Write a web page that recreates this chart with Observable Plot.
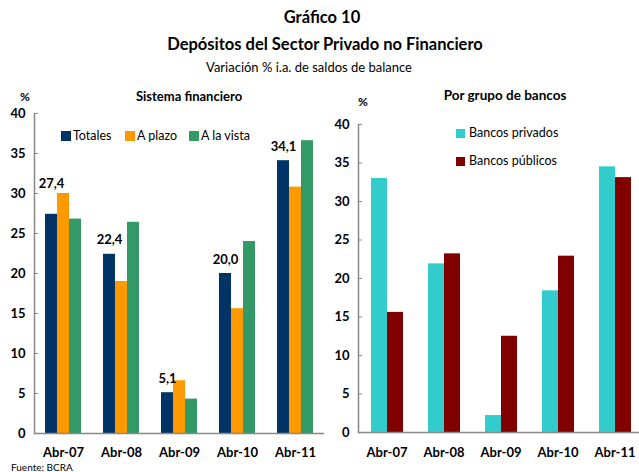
<!DOCTYPE html>
<html><head><meta charset="utf-8">
<script src="https://cdn.jsdelivr.net/npm/d3@7"></script>
<script src="https://cdn.jsdelivr.net/npm/@observablehq/plot@0.6"></script>
<style>
html,body{margin:0;padding:0;background:#fff;overflow:hidden}
#wrap{position:relative;width:639px;height:472px;font-family:Lato,"Open Sans",sans-serif;color:#000;overflow:hidden}
.abs{position:absolute;white-space:nowrap;line-height:1}
.panel{position:absolute}
</style></head><body><div id="wrap"></div>
<script>
const dates = ["Abr-07","Abr-08","Abr-09","Abr-10","Abr-11"];
const seriesLeft = ["Totales","A plazo","A la vista"];
const totales = [27.4,22.4,5.1,20.0,34.1];
const aPlazo = [30.0,19.0,6.6,15.6,30.8];
const aLaVista = [26.8,26.4,4.3,24.0,36.6];
const colorsLeft = ["#003366","#FF9900","#339966"];
const seriesRight = ["Bancos privados","Bancos públicos"];
const privados = [33.0,21.9,2.2,18.4,34.5];
const publicos = [15.6,23.2,12.5,22.9,33.1];
const colorsRight = ["#33CCCC","#800000"];
const yTicks = [0,5,10,15,20,25,30,35,40];

const wrap = document.getElementById("wrap");
function addText(txt, x, y, {size=13, weight="normal", align="center"} = {}) {
  const d = document.createElement("div");
  d.className = "abs";
  d.textContent = txt;
  d.style.fontSize = size + "px";
  d.style.fontWeight = weight;
  d.style.top = y + "px";
  d.style.left = x + "px";
  d.style.transform = align === "center" ? "translate(-50%,-50%)" : "translate(0,-50%)";
  wrap.appendChild(d);
}
function addSwatch(color, x, y, s) {
  const d = document.createElement("div");
  d.style.cssText = `position:absolute;left:${x}px;top:${y - s/2}px;width:${s}px;height:${s}px;background:${color}`;
  wrap.appendChild(d);
}

addText("Gráfico 10", 322, 17, {size: 16.5, weight: "bold"});
addText("Depósitos del Sector Privado no Financiero", 325, 44, {size: 16.5, weight: "bold"});
addText("Variación % i.a. de saldos de balance", 309, 67, {size: 13});

const leftData = [];
dates.forEach((d, i) => {
  leftData.push({date: d, series: seriesLeft[0], value: totales[i]});
  leftData.push({date: d, series: seriesLeft[1], value: aPlazo[i]});
  leftData.push({date: d, series: seriesLeft[2], value: aLaVista[i]});
});
const fmt = v => v.toFixed(1).replace(".", ",");
const labels = dates.map((d, i) => ({date: d, series: seriesLeft[0], value: totales[i], text: fmt(totales[i]), top: Math.max(totales[i], aPlazo[i])}));

const common = {
  style: {fontFamily: "Lato, 'Open Sans', sans-serif", fontSize: "13px", fontWeight: "bold", color: "#000", background: "transparent", overflow: "visible"}
};

const left = Plot.plot({
  ...common,
  width: 324, height: 392, marginLeft: 34, marginRight: 0, marginTop: 33, marginBottom: 39,
  fx: {domain: dates, paddingInner: 0, paddingOuter: 0, label: null},
  x: {domain: seriesLeft, paddingInner: 0, paddingOuter: 0.79, axis: null},
  y: {domain: [0, 40], axis: null},
  color: {domain: seriesLeft, range: colorsLeft},
  marks: [
    Plot.barY(leftData, {fx: "date", x: "series", y: "value", fill: "series"}),
    Plot.ruleY([0], {stroke: "#888", strokeWidth: 1.5}),
    Plot.frame({anchor: "left", stroke: "#888", strokeWidth: 1.5, facetAnchor: "left"}),
    Plot.axisY(yTicks, {anchor: "left", tickSize: -4, tickPadding: 13, label: null, stroke: "#888"}),
    Plot.axisFx({anchor: "bottom", tickSize: 0, tickPadding: 14, label: null}),
    Plot.text(labels.slice(0, 1), {fx: "date", x: "series", y: "top", text: "text", dy: -10}),
    Plot.text(labels.slice(1), {fx: "date", x: "series", y: "value", text: "text", dy: -14})
  ]
});
left.classList.add("panel");
left.style.left = "0px"; left.style.top = "80px";
wrap.appendChild(left);

const rightData = [];
dates.forEach((d, i) => {
  rightData.push({date: d, series: seriesRight[0], value: privados[i]});
  rightData.push({date: d, series: seriesRight[1], value: publicos[i]});
});
const right = Plot.plot({
  ...common,
  width: 323, height: 392, marginLeft: 38, marginRight: 0, marginTop: 44, marginBottom: 40,
  fx: {domain: dates, paddingInner: 0, paddingOuter: 0, label: null},
  x: {domain: seriesRight, paddingInner: 0, paddingOuter: 0.727, axis: null},
  y: {domain: [0, 40], axis: null},
  color: {domain: seriesRight, range: colorsRight},
  marks: [
    Plot.barY(rightData, {fx: "date", x: "series", y: "value", fill: "series"}),
    Plot.ruleY([0], {stroke: "#888", strokeWidth: 1.5}),
    Plot.frame({anchor: "left", stroke: "#888", strokeWidth: 1.5, facetAnchor: "left"}),
    Plot.axisY(yTicks, {anchor: "left", tickSize: -4, tickPadding: 13, label: null, stroke: "#888"}),
    Plot.axisFx({anchor: "bottom", tickSize: 0, tickPadding: 15, label: null})
  ]
});
right.classList.add("panel");
right.style.left = "320px"; right.style.top = "80px";
wrap.appendChild(right);

// panel headings
addText("%", 25, 97, {size: 12, weight: "bold"});
addText("Sistema financiero", 189, 96, {size: 13, weight: "bold"});
addText("%", 363, 102, {size: 12, weight: "bold"});
addText("Por grupo de bancos", 505, 96, {size: 13.5, weight: "bold"});

// legends
const legX = [61, 125, 189];
seriesLeft.forEach((s, i) => {
  addSwatch(colorsLeft[i], legX[i], 136, 10);
  addText(s, legX[i] + 12, 136, {size: 12.5, align: "left"});
});
const legY = [133, 161];
seriesRight.forEach((s, i) => {
  addSwatch(colorsRight[i], 456, legY[i], 9);
  addText(s, 469, legY[i], {size: 12.5, align: "left"});
});

addText("Fuente: BCRA", 11, 466.5, {size: 10, align: "left"});
</script></body></html>
